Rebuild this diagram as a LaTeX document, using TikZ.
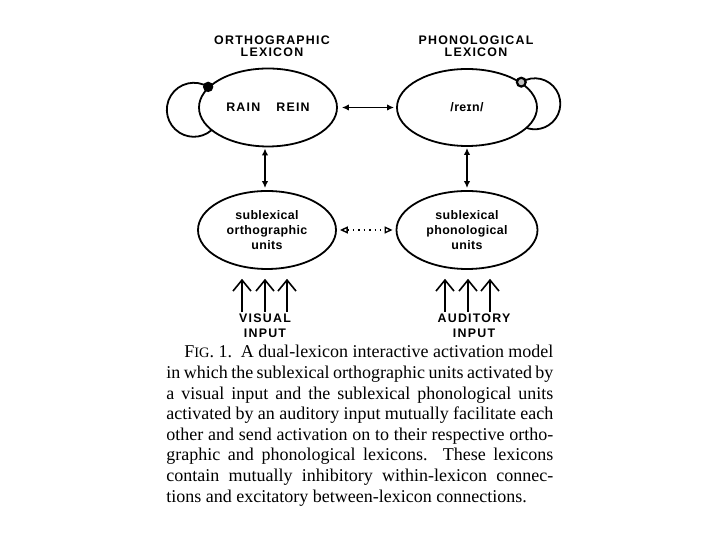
\documentclass[tikz,border=0pt]{standalone}
\usepackage{fontspec}
\setmainfont{Liberation Serif}
\newfontfamily\labelfont[LetterSpace=10]{Liberation Sans}
\newfontfamily\unitfont[LetterSpace=3]{Liberation Sans}
\usetikzlibrary{positioning, arrows.meta, shapes.geometric, backgrounds, calc}
\newcommand{\capline}[1]{\makebox[193.5pt][s]{#1}}

\begin{document}
\begin{tikzpicture}[x=0.5pt, y=0.5pt,
    lexnode/.style={draw, ellipse, line width=0.9pt, fill=white, inner sep=0pt,
      minimum width=69pt, minimum height=39pt, font=\labelfont\bfseries\fontsize{6.2}{7}\selectfont},
    subnode/.style={lexnode, align=center, font=\unitfont\bfseries\fontsize{6.2}{7.6}\selectfont},
    title/.style={align=center, inner sep=0pt, font=\labelfont\bfseries\fontsize{6.2}{6}\selectfont},
    linkarrow/.style={line width=0.9pt, {Latex[length=3.5pt,width=3.2pt]}-{Latex[length=3.5pt,width=3.2pt]}},
    facarrow/.style={line width=0.7pt, dotted, {Triangle[open,length=4pt,width=3.5pt]}-{Triangle[open,length=4pt,width=3.5pt]}},
    inarrow/.style={line width=0.8pt, -{Straight Barb[length=5.5pt,width=9pt]}},
    loopline/.style={line width=0.9pt}]
  \useasboundingbox (0,0) rectangle (720,540);

  % lexicons
  \node[title] (orthotitle) at (272,494) {ORTHOGRAPHIC\\LEXICON};
  \node[title] (phonotitle) at (476,494) {PHONOLOGICAL\\LEXICON};
  \node[lexnode] (ortho) at (268,432.5) {RAIN\hspace{8pt}REIN};
  \node[lexnode, minimum width=70pt, minimum height=38.5pt] (phono) at (467,432.5) {\unitfont\bfseries /re\char"026A n/};

  % sublexical units
  \node[subnode] (subortho) at (267,310) {sublexical\\orthographic\\units};
  \node[subnode, minimum width=70.5pt] (subphono) at (467,310) {sublexical\\phonological\\units};

  % inputs
  \node[title, font=\labelfont\bfseries\fontsize{6.2}{7.4}\selectfont] (visual) at (265,214) {VISUAL\\INPUT};
  \node[title, font=\labelfont\bfseries\fontsize{6.2}{7.4}\selectfont] (auditory) at (474,214) {AUDITORY\\INPUT};

  % inhibitory loops
  \begin{scope}[on background layer]
    \draw[loopline] (ortho.161) arc[start angle=58, end angle=320, radius=27];
    \draw[loopline] (phono.25) arc[start angle=122, end angle=-130, radius=25.5];
  \end{scope}
  \fill (ortho.161) circle (2.6pt);
  \draw[line width=1.1pt, fill=gray!50] (phono.25) circle (2.2pt);

  % connections
  \draw[linkarrow, shorten <=2pt, shorten >=1pt] (ortho.east) -- (phono.west);
  \draw[linkarrow, shorten <=0.5pt, shorten >=1pt] ([xshift=-1.5pt]ortho.south) -- ([xshift=-1.5pt]ortho.south |- subortho.north);
  \draw[linkarrow, shorten <=0.5pt, shorten >=1pt] (phono.south) -- (subphono.north);
  \draw[facarrow, shorten <=1.5pt, shorten >=1.5pt] (subortho.east) -- (subphono.west);
  \foreach \dx in {-23,0,22} {
    \draw[inarrow] ([xshift=\dx*0.5pt, yshift=1pt]visual.north) -- ++(0,33);
    \draw[inarrow] ([xshift=\dx*0.5pt-3pt, yshift=1pt]auditory.north) -- ++(0,33);
  }

  % caption
  \node[anchor=north west, inner sep=0pt, align=left,
    font=\fontsize{9}{10.3}\selectfont] (caption) at (166,195) {%
    \capline{\hspace*{9pt}F{\fontsize{7.2}{8}\selectfont IG}. 1.\ \ A dual-lexicon interactive activation model}\\
    \capline{in which the sublexical orthographic units activated by}\\
    \capline{a visual input and the sublexical phonological units}\\
    \capline{activated by an auditory input mutually facilitate each}\\
    \capline{other and send activation on to their respective ortho-}\\
    \capline{graphic and phonological lexicons. These lexicons}\\
    \capline{contain mutually inhibitory within-lexicon connec-}\\
    tions and excitatory between-lexicon connections.};
\end{tikzpicture}
\end{document}
